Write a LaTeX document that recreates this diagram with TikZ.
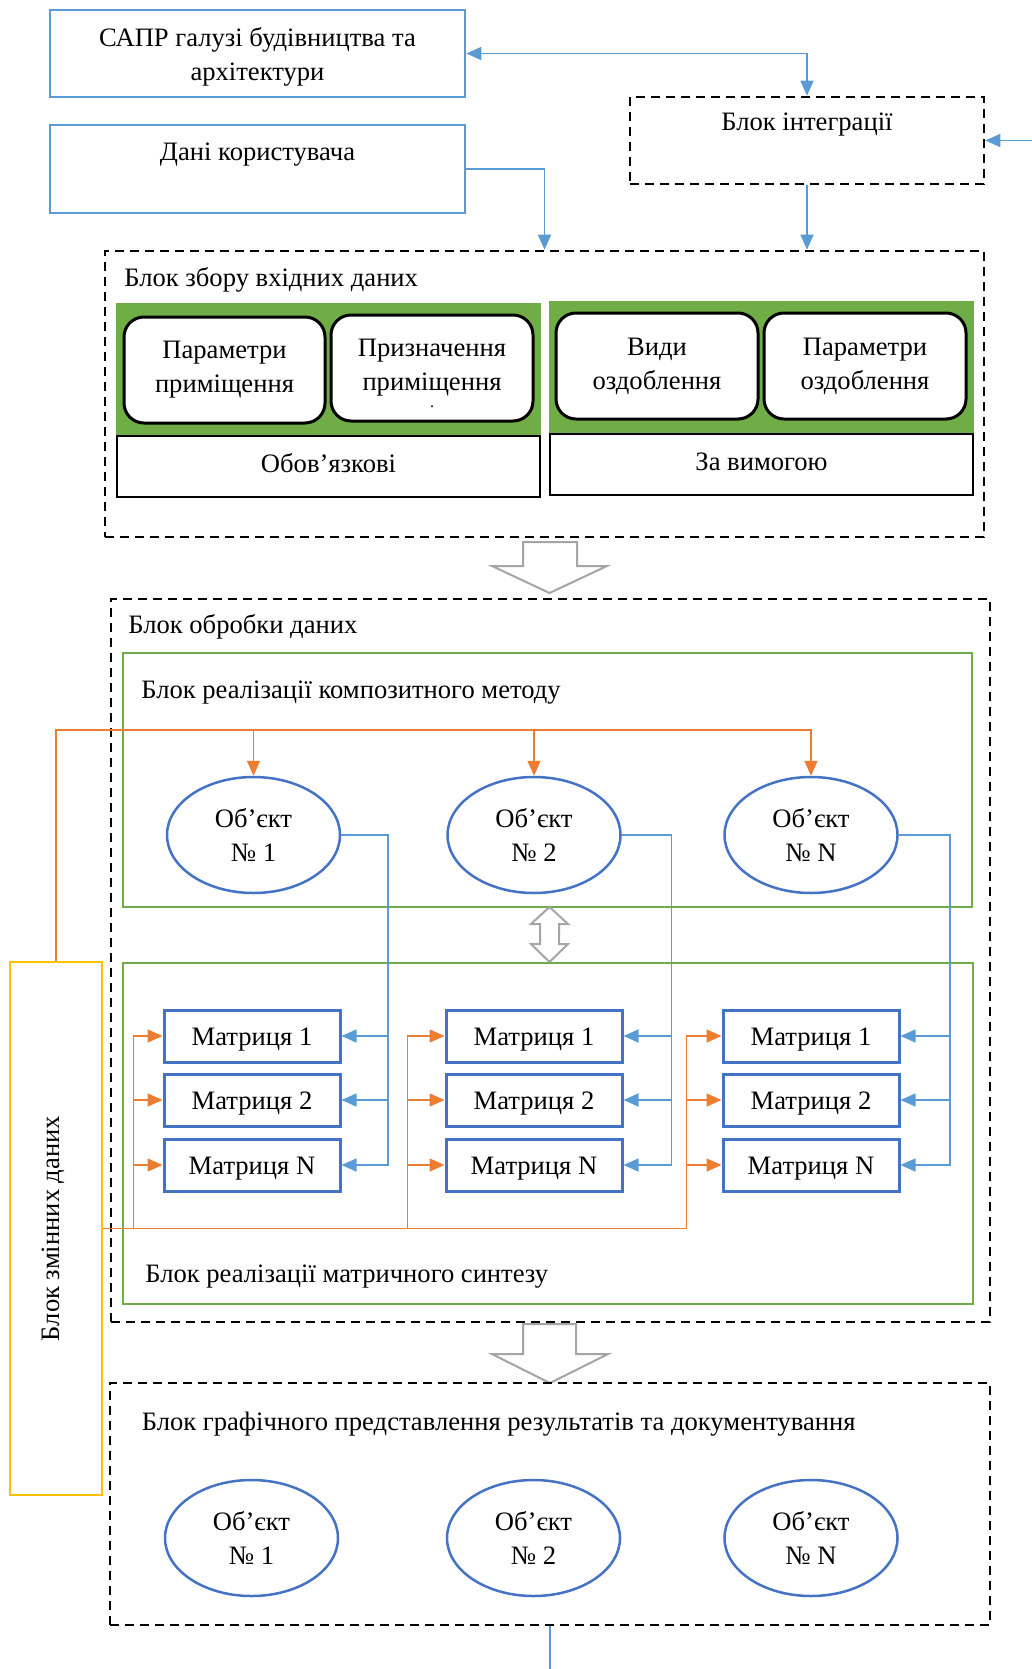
\documentclass[tikz,border=0pt]{standalone}
\usepackage{fontspec}
\setmainfont{Liberation Serif}
\usetikzlibrary{shapes.geometric,arrows.meta}
\definecolor{cBlue}{HTML}{5B9BD5}
\definecolor{cDark}{HTML}{4472C4}
\definecolor{cOrange}{HTML}{ED7D31}
\definecolor{cGreen}{HTML}{70AD47}
\definecolor{cYellow}{HTML}{FFC000}
\definecolor{cGray}{HTML}{A5A5A5}
\tikzset{
 bx/.style={rectangle, inner sep=0pt, align=center},
 bluebox/.style={bx, draw=cBlue, line width=1.25pt},
 dashbox/.style={bx, draw=black, line width=1.25pt, dash pattern=on 4.5pt off 3pt},
 greenpanel/.style={bx, draw=cGreen, fill=cGreen, line width=1pt, minimum width=211.5pt, minimum height=66pt},
 whitebar/.style={bx, draw=black, fill=white, line width=1.25pt, minimum width=211.5pt, minimum height=30.5pt, text height=9pt, text depth=3.2pt},
 roundbox/.style={bx, draw=black, fill=white, line width=1.5pt, rounded corners=10pt, minimum height=53pt},
 greenframe/.style={bx, draw=cGreen, line width=1.25pt},
 yelbox/.style={bx, draw=cYellow, line width=1.25pt},
 obj/.style={ellipse, draw=cDark, line width=1.25pt, inner sep=0pt, minimum width=86.5pt, minimum height=58pt, align=center},
 matr/.style={bx, draw=cDark, line width=1.5pt, minimum width=88pt, minimum height=26pt, text height=10.5pt, text depth=0.6pt},
 bline/.style={draw=cBlue, line width=0.75pt},
 barrow/.style={bline, -{Triangle[length=7.5pt,width=6.5pt]}},
 oline/.style={draw=cOrange, line width=0.75pt},
 oarrow/.style={oline, -{Triangle[length=7.5pt,width=6.5pt]}},
 hollow/.style={draw=cGray, line width=1pt, fill=white, line join=miter},
 title/.style={anchor=west, inner sep=0pt},
}
\begin{document}
\begin{tikzpicture}[x=0.5pt,y=-0.5pt, font=\fontsize{13.3}{17}\selectfont]
\useasboundingbox (0,0) rectangle (1032,1669);

% top blocks
\node[bluebox, minimum width=207.5pt, minimum height=43.5pt, label={[align=center, yshift=-1.5pt]center:САПР галузі будівництва та\\архітектури}] (sapr) at (257.5,53.5) {};
\node[bluebox, minimum width=207.5pt, minimum height=44pt] (dani) at (257.5,169) {};
\node (danit) at (257.5,155) {Дані користувача};
\node[dashbox, minimum width=177pt, minimum height=43.5pt] (integ) at (807,140.5) {};
\node (integt) at (807,125) {Блок інтеграції};

% input block
\node[dashbox, minimum width=439.5pt, minimum height=143pt] (zbir) at (544.5,394) {};
\node[title] (zbirt) at (124,280) {Блок збору вхідних даних};
\node[greenpanel] (gl) at (328.5,370) {};
\node[whitebar] (obov) at (328.5,466.5) {Обов’язкові};
\node[roundbox, minimum width=100.5pt] (r1) at (224.5,370) {Параметри\\приміщення};
\node[roundbox, minimum width=101pt] (r2) at (432,368) {Призначення\\приміщення};
\node[inner sep=0pt, font=\fontsize{8}{8}\selectfont] (r2dot) at (432,407) {.};
\node[greenpanel] (gr) at (761.5,368) {};
\node[whitebar] (vym) at (761.5,464.5) {За вимогою};
\node[roundbox, minimum width=101pt] (r3) at (657,366) {Види\\оздоблення};
\node[roundbox, minimum width=101pt] (r4) at (865,366) {Параметри\\оздоблення};

% connectors top
\coordinate (rin) at (1032,140.5);
\draw[barrow] (rin) -- (integ.east);
\draw[bline, {Triangle[length=7.5pt,width=6.5pt]}-{Triangle[length=7.5pt,width=6.5pt]}] (sapr.east) -| (integ.north);
\draw[barrow] (dani.east) -| (zbir.north);
\draw[barrow] (integ.south) -- (integ.south |- zbir.north);

% hollow arrow 1
\draw[hollow] (523,542) -- (577,542) -- (577,566) -- (607,566) -- (549.5,593) -- (492,566) -- (523,566) -- cycle;

% processing block
\node[dashbox, minimum width=439.5pt, minimum height=361.5pt] (obr) at (550.5,960.5) {};
\node[title] (obrt) at (128,627) {Блок обробки даних};
\node[greenframe, minimum width=424.5pt, minimum height=127pt] (g1) at (547.5,780) {};
\node[title] (g1t) at (141,693) {Блок реалізації композитного методу};
\node[obj] (e1) at (253.5,835) {Об’єкт\\№ 1};
\node[obj] (e2) at (534,835) {Об’єкт\\№ 2};
\node[obj] (e3) at (811,835) {Об’єкт\\№ N};

% double hollow arrow
\draw[hollow] (549.5,907) -- (568,924) -- (559,924) -- (559,944) -- (568,944) -- (549.5,962) -- (531,944) -- (540,944) -- (540,924) -- (531,924) -- cycle;

\node[greenframe, minimum width=425pt, minimum height=170.5pt] (g2) at (548,1133.5) {};
\node[title] (g2t) at (145,1277) {Блок реалізації матричного синтезу};

\node[matr] (m11) at (252,1036) {Матриця 1};
\node[matr] (m12) at (252,1100) {Матриця 2};
\node[matr] (m1N) at (252,1165) {Матриця N};
\node[matr] (m21) at (534,1036) {Матриця 1};
\node[matr] (m22) at (534,1100) {Матриця 2};
\node[matr] (m2N) at (534,1165) {Матриця N};
\node[matr] (m31) at (811,1036) {Матриця 1};
\node[matr] (m32) at (811,1100) {Матриця 2};
\node[matr] (m3N) at (811,1165) {Матриця N};

% yellow block
\node[yelbox, minimum width=46pt, minimum height=266.5pt, label={[rotate=90, yshift=1.5pt]center:Блок змінних даних}] (yel) at (56,1228.5) {};

% blue connectors objects -> matrices
\coordinate (v1) at (388,0);
\coordinate (v2) at (671.5,0);
\coordinate (v3) at (950,0);
\draw[barrow] (e1.east) -| (v1 |- m1N.east) -- (m1N.east);
\draw[barrow] (v1 |- m11.east) -- (m11.east);
\draw[barrow] (v1 |- m12.east) -- (m12.east);
\draw[barrow] (e2.east) -| (v2 |- m2N.east) -- (m2N.east);
\draw[barrow] (v2 |- m21.east) -- (m21.east);
\draw[barrow] (v2 |- m22.east) -- (m22.east);
\draw[barrow] (e3.east) -| (v3 |- m3N.east) -- (m3N.east);
\draw[barrow] (v3 |- m31.east) -- (m31.east);
\draw[barrow] (v3 |- m32.east) -- (m32.east);

% orange connectors
\coordinate (otop) at (56,730);
\draw[oarrow] (yel.north) |- (e3.north |- otop) -- (e3.north);
\draw[oarrow] (e1.north |- otop) -- (e1.north);
\draw[oarrow] (e2.north |- otop) -- (e2.north);
\coordinate (o1) at (133.5,0);
\coordinate (o2) at (407.5,0);
\coordinate (o3) at (686.5,0);
\draw[oline] (yel.east) -- (o3 |- yel.east);
\draw[oarrow] (o1 |- yel.east) |- (m11.west);
\draw[oarrow] (o1 |- m12.west) -- (m12.west);
\draw[oarrow] (o1 |- m1N.west) -- (m1N.west);
\draw[oarrow] (o2 |- yel.east) |- (m21.west);
\draw[oarrow] (o2 |- m22.west) -- (m22.west);
\draw[oarrow] (o2 |- m2N.west) -- (m2N.west);
\draw[oarrow] (o3 |- yel.east) |- (m31.west);
\draw[oarrow] (o3 |- m32.west) -- (m32.west);
\draw[oarrow] (o3 |- m3N.west) -- (m3N.west);

% hollow arrow 2
\draw[hollow] (523,1324) -- (576,1324) -- (576,1354) -- (608,1354) -- (550,1383) -- (492,1354) -- (523,1354) -- cycle;

% output block
\node[dashbox, minimum width=440pt, minimum height=121pt] (graf) at (550,1504) {};
\node[title] (graft) at (141.5,1424) {Блок графічного представлення результатів та документування};
\node[obj] (f1) at (251.5,1538) {Об’єкт\\№ 1};
\node[obj] (f2) at (533.5,1538) {Об’єкт\\№ 2};
\node[obj] (f3) at (811,1538) {Об’єкт\\№ N};
\coordinate (bend) at (550,1669);
\draw[bline] (graf.south) -- (bend);
\end{tikzpicture}
\end{document}
